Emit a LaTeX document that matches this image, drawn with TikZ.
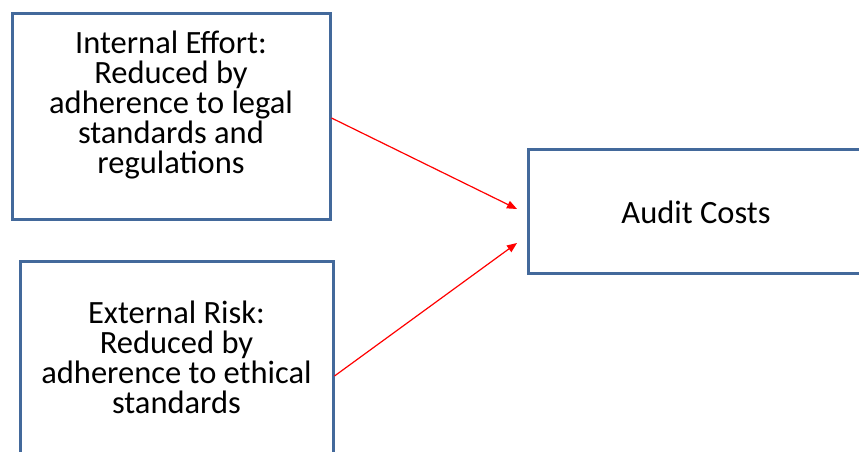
\documentclass[tikz,border=0pt]{standalone}
\usepackage{fontspec}
\setmainfont{Carlito}
\usetikzlibrary{arrows.meta}
\definecolor{boxblue}{HTML}{43699B}
\definecolor{arrowred}{HTML}{FF0000}
\tikzset{
  box/.style={draw=boxblue,line width=3pt,rectangle,inner sep=0pt},
  txt/.style={align=center,font=\fontsize{32.5}{30}\selectfont},
  link/.style={draw=arrowred,line width=1.2pt,-{Triangle[length=10pt,width=8pt]}}
}
\begin{document}
\begin{tikzpicture}[x=1pt,y=1pt]
  \useasboundingbox (0,0) rectangle (859,452);
  \clip (0,0) rectangle (859,452);
  \node[box,minimum width=318pt,minimum height=206pt] (effort) at (171,335) {};
  \node[txt] (effortText) at ([yshift=12pt]effort.center) {Internal Effort:\\Reduced by\\adherence to legal\\standards and\\regulations};
  \node[box,minimum width=313pt,minimum height=210pt] (risk) at (176.5,85) {};
  \node[txt] (riskText) at ([yshift=10pt]risk.center) {External Risk:\\Reduced by\\adherence to ethical\\standards};
  \node[box,minimum width=336pt,minimum height=124pt] (audit) at (696,240) {};
  \node[txt] (auditText) at (audit.center) {Audit Costs};
  \coordinate (in1) at (517,243);
  \coordinate (in2) at (517,209);
  \draw[link] ([yshift=-1pt]effort.east) -- (in1);
  \draw[link] ([yshift=-9pt]risk.east) -- (in2);
\end{tikzpicture}
\end{document}
